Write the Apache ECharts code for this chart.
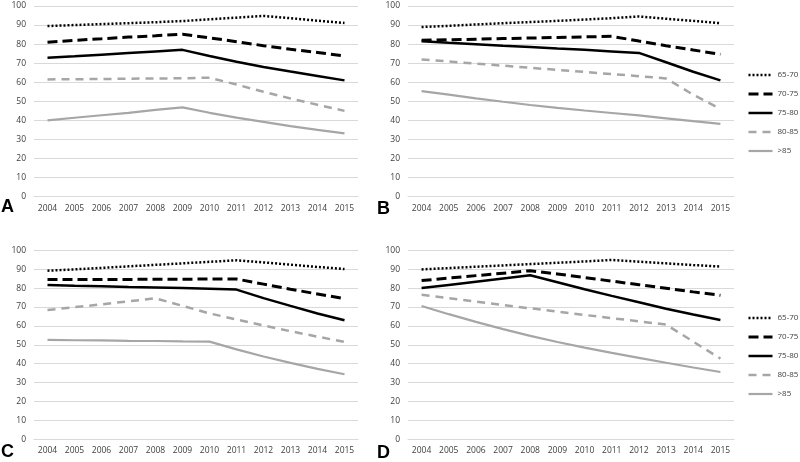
<!DOCTYPE html>
<html>
<head>
<meta charset="utf-8">
<script src="https://cdn.jsdelivr.net/npm/echarts@6/dist/echarts.min.js"></script>
<style>html,body{margin:0;padding:0;background:#fff}#c{width:800px;height:462px}</style>
</head>
<body>
<div id="c"></div>
<script>
const years = ['2004','2005','2006','2007','2008','2009','2010','2011','2012','2013','2014','2015'];
const seriesNames = ['65-70','70-75','75-80','80-85','>85'];
const panelLetters = ['A','B','C','D'];

const a6570 = [89.5, 90, 90.5, 91, 91.5, 92.1, 93, 93.9, 94.8, 93.6, 92.3, 91.1];
const a7075 = [81, 82, 82.8, 83.7, 84.4, 85.2, 83.3, 81.3, 79.2, 77.3, 75.6, 73.8];
const a7580 = [72.8, 73.6, 74.5, 75.4, 76.2, 77, 73.8, 70.8, 68, 65.6, 63.3, 61];
const a8085 = [61.5, 61.6, 61.7, 61.9, 62, 62.1, 62.4, 58.8, 55, 51.5, 48.2, 45];
const a85   = [40, 41.4, 42.7, 44, 45.5, 46.8, 44, 41.5, 39.2, 37, 35, 33.2];

const b6570 = [89, 89.6, 90.3, 91, 91.6, 92.2, 92.9, 93.6, 94.5, 93.3, 92.2, 91];
const b7075 = [82, 82.3, 82.6, 82.9, 83.2, 83.5, 83.8, 84.1, 81.6, 79.2, 76.9, 74.7];
const b7580 = [81.5, 80.7, 80, 79.2, 78.5, 77.7, 77, 76.2, 75.4, 70.5, 65.5, 61];
const b8085 = [72, 70.9, 69.8, 68.7, 67.6, 66.5, 65.4, 64.3, 63.2, 62, 53.5, 46];
const b85   = [55.4, 53.5, 51.6, 49.8, 48.1, 46.6, 45.2, 43.9, 42.6, 41.1, 39.6, 38.2];

const c6570 = [89.2, 89.9, 90.7, 91.5, 92.3, 93.1, 93.9, 94.7, 93.6, 92.4, 91.2, 90.1];
const c7075 = [84.5, 84.5, 84.6, 84.6, 84.7, 84.7, 84.8, 84.8, 82.1, 79.4, 76.9, 74.4];
const c7580 = [81.7, 81.3, 81, 80.6, 80.3, 80, 79.6, 79.2, 74.7, 70.6, 66.6, 63];
const c8085 = [68.4, 69.9, 71.4, 73, 74.6, 70.6, 66.6, 63.4, 60.2, 57.2, 54.3, 51.5];
const c85   = [52.6, 52.4, 52.3, 52.1, 52, 51.8, 51.7, 47.6, 43.8, 40.4, 37.3, 34.4];

const d6570 = [89.9, 90.6, 91.3, 92, 92.7, 93.4, 94.1, 94.9, 94, 93.1, 92.2, 91.4];
const d7075 = [84, 85.3, 86.6, 87.9, 89.2, 87.5, 85.6, 83.7, 81.8, 79.9, 78, 76.2];
const d7580 = [80, 81.7, 83.4, 85.1, 86.8, 83.1, 79.4, 75.9, 72.5, 69.1, 66, 63.1];
const d8085 = [76.5, 74.7, 72.9, 71.1, 69.3, 67.6, 65.8, 64.1, 62.4, 60.7, 51.7, 42.7];
const d85   = [70.5, 66.2, 62.1, 58.3, 54.7, 51.5, 48.5, 45.7, 43.1, 40.5, 38, 35.6];

const panels = [
  [a6570, a7075, a7580, a8085, a85],
  [b6570, b7075, b7580, b8085, b85],
  [c6570, c7075, c7580, c8085, c85],
  [d6570, d7075, d7580, d8085, d85]
];

const styles = [
  {color:'#000', width:2.5, type:[2,2]},
  {color:'#000', width:3, type:[10,5]},
  {color:'#000', width:2.5, type:'solid'},
  {color:'#a6a6a6', width:2.5, type:[8,6]},
  {color:'#a6a6a6', width:2.2, type:'solid'}
];

const grids = [
  {left:34, top:6, width:324, height:190.7},
  {left:408, top:6, width:326, height:190.7},
  {left:34, top:250.3, width:324, height:189},
  {left:408, top:250.3, width:326, height:189}
];
const letterPos = [[1,207.5],[377,209.5],[1,452],[377,453.5]];

const labelFont = {fontFamily:'Open Sans', fontSize:8.5, color:'#404040'};

const option = {
  animation:false,
  backgroundColor:'#fff',
  grid: grids.map(g => Object.assign({containLabel:false}, g)),
  xAxis: grids.map((g,i) => ({
    type:'category', gridIndex:i, data:years, boundaryGap:true,
    axisLine:{show:true, lineStyle:{color:'#d9d9d9', width:1}},
    axisTick:{show:false},
    axisLabel:Object.assign({margin:7, interval:0}, labelFont),
    splitLine:{show:false}
  })),
  yAxis: grids.map((g,i) => ({
    type:'value', gridIndex:i, min:0, max:100, interval:10,
    axisLine:{show:false}, axisTick:{show:false},
    axisLabel:Object.assign({margin:8}, labelFont),
    splitLine:{show:true, lineStyle:{color:'#d9d9d9', width:1}}
  })),
  legend: [
    {top:71, left:747},
    {top:314, left:747}
  ].map(p => ({
    orient:'vertical', left:p.left, top:p.top, itemWidth:24, itemHeight:6, itemGap:11,
    padding:0, selectedMode:false,
    itemStyle:{opacity:0},
    textStyle:{fontFamily:'Open Sans', fontSize:8, color:'#404040'},
    data: seriesNames.map((n,k) => ({name:n, itemStyle:{opacity:0}, lineStyle:{color:styles[k].color, width:styles[k].width, type:styles[k].type}}))
  })),
  graphic: panelLetters.map((t,i) => ({
    type:'text', x:letterPos[i][0], y:letterPos[i][1],
    style:{text:t, font:'bold 18px "Liberation Sans", Arial, sans-serif', fill:'#000', verticalAlign:'middle', align:'left'}
  })),
  series: []
};

panels.forEach((p, i) => {
  p.forEach((vals, k) => {
    option.series.push({
      type:'line', name:seriesNames[k], xAxisIndex:i, yAxisIndex:i,
      data:vals, symbol:'none', smooth:false,
      lineStyle:{color:styles[k].color, width:styles[k].width, type:styles[k].type},
      itemStyle:{color:styles[k].color},
      z: 10 - k
    });
  });
});

const chart = echarts.init(document.getElementById('c'), null, {renderer:'canvas'});
chart.setOption(option);
</script>
</body>
</html>
